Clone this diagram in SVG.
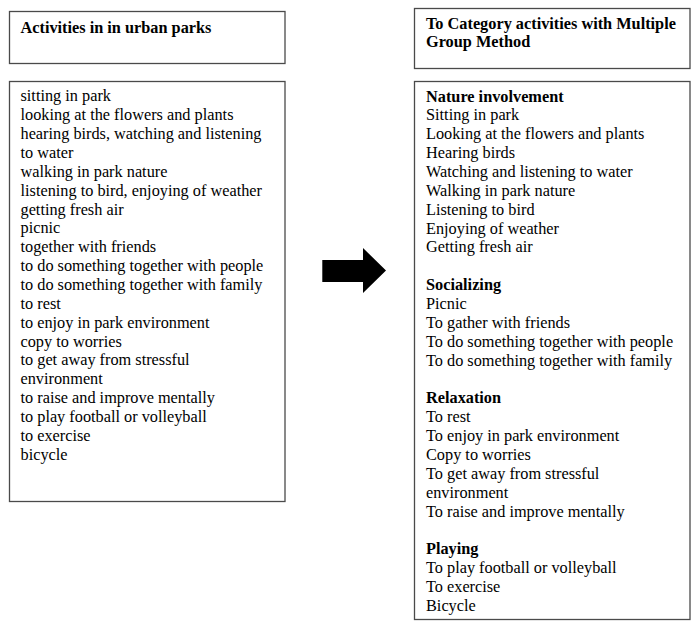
<svg xmlns="http://www.w3.org/2000/svg" width="700" height="629" viewBox="0 0 700 629">
<style>
.box{fill:#fff;stroke:#4a4a4a;stroke-width:1.3}
text{font-family:"Liberation Serif","Times New Roman",serif;font-size:16.3px;fill:#000}
.b{font-weight:bold}
</style>
<rect width="700" height="629" fill="#fff"/>
<g id="left-title">
<rect class="box" x="9.5" y="11.5" width="275.5" height="52"/>
<text class="b" x="20.5" y="32.5">Activities in in urban parks</text>
</g>
<g id="left-list">
<rect class="box" x="9.5" y="81.5" width="275.5" height="420"/>
<text x="20.5" y="101.3">
<tspan x="20.5">sitting in park</tspan>
<tspan x="20.5" dy="18.87">looking at the flowers and plants</tspan>
<tspan x="20.5" dy="18.87">hearing birds, watching and listening</tspan>
<tspan x="20.5" dy="18.87">to water</tspan>
<tspan x="20.5" dy="18.87">walking in park nature</tspan>
<tspan x="20.5" dy="18.87">listening to bird, enjoying of weather</tspan>
<tspan x="20.5" dy="18.87">getting fresh air</tspan>
<tspan x="20.5" dy="18.87">picnic</tspan>
<tspan x="20.5" dy="18.87">together with friends</tspan>
<tspan x="20.5" dy="18.87">to do something together with people</tspan>
<tspan x="20.5" dy="18.87">to do something together with family</tspan>
<tspan x="20.5" dy="18.87">to rest</tspan>
<tspan x="20.5" dy="18.87">to enjoy in park environment</tspan>
<tspan x="20.5" dy="18.87">copy to worries</tspan>
<tspan x="20.5" dy="18.87">to get away from stressful</tspan>
<tspan x="20.5" dy="18.87">environment</tspan>
<tspan x="20.5" dy="18.87">to raise and improve mentally</tspan>
<tspan x="20.5" dy="18.87">to play football or volleyball</tspan>
<tspan x="20.5" dy="18.87">to exercise</tspan>
<tspan x="20.5" dy="18.87">bicycle</tspan>
</text>
</g>
<g id="connectors">
<polygon points="322.3,260 363,260 363,248 386,270.5 363,293 363,282 322.3,282" fill="#000"/>
</g>
<g id="right-title">
<rect class="box" x="414.5" y="8.5" width="275.5" height="60"/>
<text class="b" x="426" y="28.5">
<tspan x="426">To Category activities with Multiple</tspan>
<tspan x="426" dy="18.87">Group Method</tspan>
</text>
</g>
<g id="right-list">
<rect class="box" x="414.5" y="81.5" width="275.5" height="538"/>
<text x="426" y="101.5">
<tspan x="426" class="b">Nature involvement</tspan>
<tspan x="426" dy="18.87">Sitting in park</tspan>
<tspan x="426" dy="18.87">Looking at the flowers and plants</tspan>
<tspan x="426" dy="18.87">Hearing birds</tspan>
<tspan x="426" dy="18.87">Watching and listening to water</tspan>
<tspan x="426" dy="18.87">Walking in park nature</tspan>
<tspan x="426" dy="18.87">Listening to bird</tspan>
<tspan x="426" dy="18.87">Enjoying of weather</tspan>
<tspan x="426" dy="18.87">Getting fresh air</tspan>
<tspan x="426" dy="37.74" class="b">Socializing</tspan>
<tspan x="426" dy="18.87">Picnic</tspan>
<tspan x="426" dy="18.87">To gather with friends</tspan>
<tspan x="426" dy="18.87">To do something together with people</tspan>
<tspan x="426" dy="18.87">To do something together with family</tspan>
<tspan x="426" dy="37.74" class="b">Relaxation</tspan>
<tspan x="426" dy="18.87">To rest</tspan>
<tspan x="426" dy="18.87">To enjoy in park environment</tspan>
<tspan x="426" dy="18.87">Copy to worries</tspan>
<tspan x="426" dy="18.87">To get away from stressful</tspan>
<tspan x="426" dy="18.87">environment</tspan>
<tspan x="426" dy="18.87">To raise and improve mentally</tspan>
<tspan x="426" dy="37.74" class="b">Playing</tspan>
<tspan x="426" dy="18.87">To play football or volleyball</tspan>
<tspan x="426" dy="18.87">To exercise</tspan>
<tspan x="426" dy="18.87">Bicycle</tspan>
</text>
</g>
</svg>
